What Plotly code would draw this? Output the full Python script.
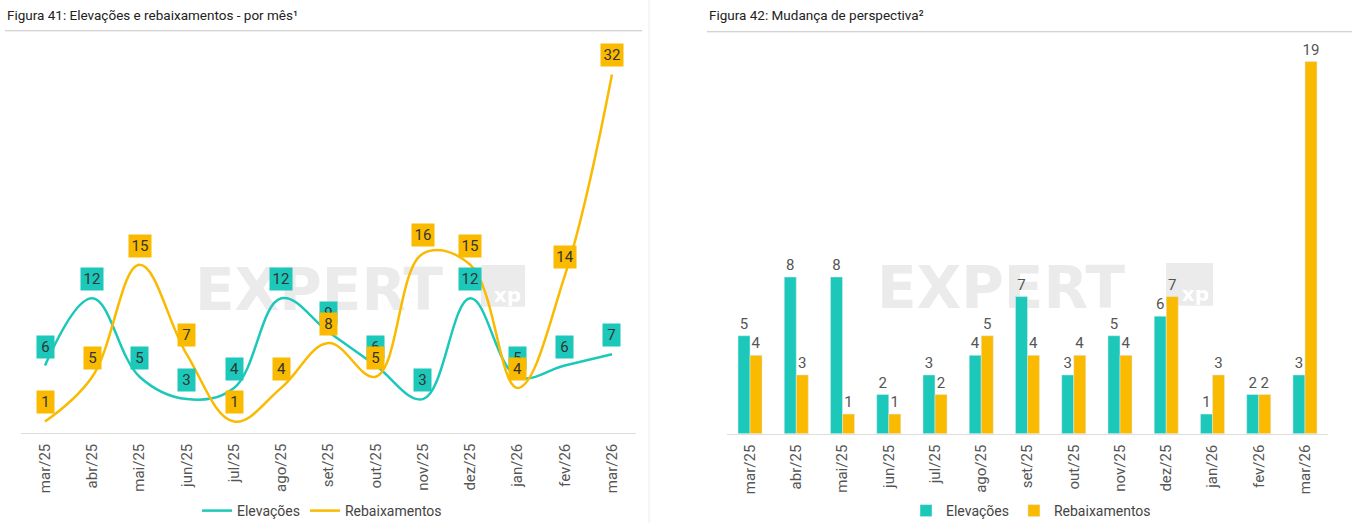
import plotly.graph_objects as go

months = ["mar/25", "abr/25", "mai/25", "jun/25", "jul/25", "ago/25", "set/25",
          "out/25", "nov/25", "dez/25", "jan/26", "fev/26", "mar/26"]
elev_mes = [6, 12, 5, 3, 4, 12, 9, 6, 3, 12, 5, 6, 7]
rebaix_mes = [1, 5, 15, 7, 1, 4, 8, 5, 16, 15, 4, 14, 32]
elev_persp = [5, 8, 8, 2, 3, 4, 7, 3, 5, 6, 1, 2, 3]
rebaix_persp = [4, 3, 1, 1, 2, 5, 4, 4, 4, 7, 3, 2, 19]

title_left = "Figura 41: Elevações e rebaixamentos - por mês¹"
title_right = "Figura 42: Mudança de perspectiva²"
name_elev = "Elevações"
name_rebaix = "Rebaixamentos"

W, H = 1366, 527
TEAL = "#1CC8B9"
YELLOW = "#F9BA00"
FONT = "Roboto"


def px(x):
    return x / W


def py(y):
    return (H - y) / H


fig = go.Figure()

# Left chart: smoothed lines
fig.add_trace(go.Scatter(x=months, y=elev_mes, name=name_elev, mode="lines",
                         line=dict(color=TEAL, width=2.5, shape="spline", smoothing=1.1),
                         xaxis="x", yaxis="y", legend="legend", cliponaxis=False))
fig.add_trace(go.Scatter(x=months, y=rebaix_mes, name=name_rebaix, mode="lines",
                         line=dict(color=YELLOW, width=2.5, shape="spline", smoothing=1.1),
                         xaxis="x", yaxis="y", legend="legend", cliponaxis=False))

# Right chart: grouped bars
fig.add_trace(go.Bar(x=months, y=elev_persp, name=name_elev, marker_color=TEAL,
                     text=elev_persp, textposition="outside", cliponaxis=False,
                     constraintext="none",
                     textfont=dict(family=FONT, size=15, color="#555"),
                     xaxis="x2", yaxis="y2", legend="legend2"))
fig.add_trace(go.Bar(x=months, y=rebaix_persp, name=name_rebaix, marker_color=YELLOW,
                     text=rebaix_persp, textposition="outside", cliponaxis=False,
                     constraintext="none",
                     textfont=dict(family=FONT, size=15, color="#555"),
                     xaxis="x2", yaxis="y2", legend="legend2"))

annotations = []
for series, color in ((elev_mes, TEAL), (rebaix_mes, YELLOW)):
    for m, v in zip(months, series):
        annotations.append(dict(
            x=m, y=v, xref="x", yref="y", text=str(v), showarrow=False,
            yshift=19, bgcolor=color, borderpad=1,
            width=10 + 5 * len(str(v)), height=20,
            font=dict(family=FONT, size=15, color="#333")))

# Titles
annotations.append(dict(x=px(5), y=py(15), xref="paper", yref="paper", text=title_left,
                        showarrow=False, xanchor="left", yanchor="middle",
                        font=dict(family=FONT, size=13.5, color="#222")))
annotations.append(dict(x=px(707), y=py(15), xref="paper", yref="paper", text=title_right,
                        showarrow=False, xanchor="left", yanchor="middle",
                        font=dict(family=FONT, size=13.5, color="#222")))

WM = "#EBEBEB"
shapes = [
    dict(type="line", xref="paper", yref="paper", x0=px(5), x1=px(642), y0=py(31), y1=py(31),
         line=dict(color="#C4C4C4", width=1)),
    dict(type="line", xref="paper", yref="paper", x0=px(707), x1=px(1352), y0=py(32), y1=py(32),
         line=dict(color="#C4C4C4", width=1)),
    dict(type="line", xref="paper", yref="paper", x0=px(649), x1=px(649), y0=0, y1=1,
         line=dict(color="#ECECEC", width=1)),
]
# watermarks
for (tx0, tx1, bx0, bx1, y0, y1) in ((168, 470, 481, 525, 267, 309), (852, 1150, 1166, 1213, 265, 308)):
    shapes.append(dict(type="rect", xref="paper", yref="paper", layer="below",
                       x0=px(tx0), x1=px(tx1), y0=py(y1), y1=py(y0),
                       line=dict(width=0), fillcolor="rgba(0,0,0,0)",
                       label=dict(text="EXPERT", textposition="middle center",
                                  font=dict(family="DejaVu Sans", size=58, color=WM, weight="bold"))))
    shapes.append(dict(type="rect", xref="paper", yref="paper", layer="below",
                       x0=px(bx0), x1=px(bx1), y0=py(y1), y1=py(y0),
                       line=dict(width=0), fillcolor=WM,
                       label=dict(text="xp", textposition="bottom right", padding=1,
                                  font=dict(family="DejaVu Sans", size=20, color="white", weight="bold"))))

axis_common = dict(type="category", showgrid=False, zeroline=False, showline=True,
                   linecolor="#DDDDDD", linewidth=1, ticks="", tickangle=-90,
                   ticklabelstandoff=4,
                   tickfont=dict(family=FONT, size=15, color="#555"), range=[-0.5, 12.5],
                   fixedrange=True)
yaxis_common = dict(showgrid=False, zeroline=False, showline=False, showticklabels=False,
                    ticks="", fixedrange=True)

fig.update_layout(
    width=W, height=H, autosize=False,
    margin=dict(l=0, r=0, t=0, b=0),
    paper_bgcolor="white", plot_bgcolor="rgba(0,0,0,0)",
    font=dict(family=FONT, color="#444"),
    barmode="group", bargap=0.48, bargroupgap=0,
    xaxis=dict(domain=[px(21.4), px(635.6)], anchor="y", **axis_common),
    yaxis=dict(domain=[py(436), py(52.4)], anchor="x", range=[0, 34], **yaxis_common),
    xaxis2=dict(domain=[px(726.9), px(1328.1)], anchor="y2", **axis_common),
    yaxis2=dict(domain=[py(437), py(42.3)], anchor="x2", range=[0, 20], **yaxis_common),
    legend=dict(orientation="h", x=px(322), y=py(515), xanchor="center", yanchor="middle",
                font=dict(family=FONT, size=14, color="#444"), bgcolor="rgba(0,0,0,0)",
                itemwidth=30),
    legend2=dict(orientation="h", x=px(1031), y=py(515), xanchor="center", yanchor="middle",
                 font=dict(family=FONT, size=14, color="#444"), bgcolor="rgba(0,0,0,0)",
                 itemwidth=30),
    annotations=annotations,
    shapes=shapes,
)

fig.write_html("out.html")
